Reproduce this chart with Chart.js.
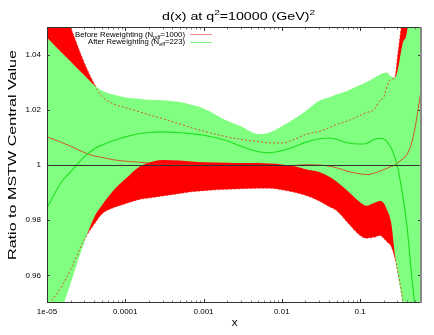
<!DOCTYPE html>
<html>
<head>
<meta charset="utf-8">
<script src="https://cdn.jsdelivr.net/npm/chart.js@4.4.1/dist/chart.umd.min.js"></script>
<style>
  html, body { margin: 0; padding: 0; background: #ffffff; }
  #wrap { width: 434px; height: 335px; }
</style>
</head>
<body>
<div id="wrap"><canvas id="c" width="434" height="335"></canvas></div>
<script>
// ---------------- data ----------------
const xValues = [1e-5, 1.5e-5, 2e-5, 3e-5, 4e-5, 5e-5, 7e-5, 1e-4, 1.5e-4, 2e-4, 3e-4, 5e-4, 7e-4,
  1e-3, 2e-3, 3e-3, 5e-3, 7e-3, 1e-2, 1.5e-2, 2e-2, 3e-2, 4e-2, 5e-2, 7e-2,
  0.1, 0.12, 0.15, 0.18, 0.2, 0.22, 0.25, 0.28, 0.3, 0.35, 0.4, 0.45, 0.5, 0.55, 0.6];

const redUpper = [1.072, 1.060, 1.050, 1.037, 1.0295, 1.025, 1.0222, 1.0208, 1.0193, 1.0182, 1.0168, 1.0148, 1.0135,
  1.0123, 1.0102, 1.0093, 1.0085, 1.008, 1.008, 1.0095, 1.011, 1.0122, 1.0135, 1.0147, 1.016,
  1.018, 1.019, 1.020, 1.0235, 1.0245, 1.0285, 1.031, 1.032, 1.039, 1.055, 1.075, 1.095, 1.115, 1.135, 1.155];

const redLower = [0.9485, 0.9555, 0.962, 0.973, 0.9785, 0.9822, 0.9845, 0.986, 0.9875, 0.988, 0.9888, 0.9897, 0.9903,
  0.9907, 0.9912, 0.9914, 0.9916, 0.9916, 0.991, 0.990, 0.989, 0.987, 0.985, 0.9835, 0.979,
  0.9745, 0.9735, 0.9738, 0.9745, 0.9735, 0.9722, 0.9705, 0.966, 0.962, 0.951, 0.935, 0.92, 0.90, 0.88, 0.86];

const redCentral = [1.0102, 1.0083, 1.0068, 1.0045, 1.0033, 1.0028, 1.0019, 1.0014, 1.0010, 1.0007, 1.0004, 1.0002, 1.0001,
  1.0000, 0.9998, 0.9997, 0.9996, 0.9996, 0.9997, 0.9999, 1.0001, 1.0000, 0.9996, 0.9990, 0.9977,
  0.9968, 0.9965, 0.9970, 0.9978, 0.9983, 0.9988, 0.9995, 1.0000, 1.0008, 1.0022, 1.004, 1.0075, 1.013, 1.020, 1.027];

const greenUpper = [1.0462, 1.041, 1.0375, 1.0325, 1.029, 1.027, 1.0255, 1.0245, 1.024, 1.0236, 1.0235, 1.0228, 1.0218,
  1.0205, 1.016, 1.014, 1.0112, 1.0118, 1.014, 1.017, 1.0195, 1.0233, 1.0245, 1.0255, 1.027,
  1.029, 1.030, 1.0315, 1.0328, 1.0333, 1.0335, 1.032, 1.0318, 1.034, 1.044, 1.049, 1.07, 1.09, 1.11, 1.13];

const greenLower = [0.928, 0.9465, 0.957, 0.972, 0.981, 0.9853, 0.9907, 0.9949, 0.9993, 1.0008, 1.0018, 1.0016, 1.0013,
  1.001, 1.0008, 1.0007, 1.0007, 1.0005, 1.0002, 0.9995, 0.9985, 0.9975, 0.9958, 0.994, 0.9905,
  0.9865, 0.9852, 0.9862, 0.987, 0.9862, 0.9838, 0.979, 0.967, 0.961, 0.949, 0.93, 0.91, 0.89, 0.87, 0.85];

const greenCentral = [0.9845, 0.9935, 0.9975, 1.003, 1.0058, 1.0072, 1.0088, 1.0102, 1.0113, 1.0118, 1.012, 1.0117, 1.0113,
  1.0108, 1.0088, 1.0068, 1.0048, 1.0044, 1.0052, 1.0068, 1.0082, 1.0095, 1.0098, 1.0093, 1.008,
  1.0076, 1.0078, 1.0092, 1.0097, 1.0094, 1.0085, 1.0062, 1.0025, 0.9995, 0.989, 0.977, 0.9615, 0.949, 0.937, 0.925];

const xTickValues = [1e-5, 1e-4, 1e-3, 1e-2, 0.1];
const xTickLabels = ['1e-05', '0.0001', '0.001', '0.01', '0.1'];
const yTickValues = [0.96, 0.98, 1, 1.02, 1.04];
const yTickLabels = ['0.96', '0.98', '1', '1.02', '1.04'];
const referenceValue = 1;

const titleParts = [{t: 'd(x) at q'}, {t: '2', sup: true}, {t: '=10000 (GeV)'}, {t: '2', sup: true}];
const xTitle = 'x';
const yTitle = 'Ratio to MSTW Central Value';
const legendBefore = [{t: 'Before Reweighting (N'}, {t: 'pdf', sub: true}, {t: '=1000)'}];
const legendAfter = [{t: 'After Reweighting (N'}, {t: 'eff', sub: true}, {t: '=223)'}];

// ---------------- helpers ----------------
const X_MIN = 1e-5, X_MAX = 0.6;
const FONT = '"Liberation Sans", Arial, Helvetica, sans-serif';
const pts = arr => xValues.map((x, i) => ({x: x, y: arr[i]}));

const allXTicks = [];
for (let k = -5; k <= -1; k++) {
  for (let m = 1; m <= 9; m++) {
    const v = m * Math.pow(10, k);
    if (v <= X_MAX * 1.0001) allXTicks.push(+v.toPrecision(6));
  }
}
function xLabelFor(v) {
  const i = xTickValues.findIndex(t => Math.abs(Math.log10(t) - Math.log10(v)) < 1e-6);
  return i >= 0 ? xTickLabels[i] : '';
}
function yLabelFor(v) {
  const i = yTickValues.findIndex(t => Math.abs(t - v) < 1e-9);
  return i >= 0 ? yTickLabels[i] : '';
}

function partFont(p, size) {
  const s = (p.sup || p.sub) ? size * 0.7 : size;
  return s.toFixed(2) + 'px ' + FONT;
}
function richWidth(ctx, parts, size) {
  let w = 0;
  for (const p of parts) { ctx.font = partFont(p, size); w += ctx.measureText(p.t).width; }
  return w;
}
function drawRich(ctx, parts, size, x, y) {
  let cx = x;
  for (const p of parts) {
    ctx.font = partFont(p, size);
    const dy = p.sup ? -size * 0.42 : (p.sub ? size * 0.28 : 0);
    ctx.fillText(p.t, cx, y + dy);
    cx += ctx.measureText(p.t).width;
  }
}
function drawFitted(ctx, parts, size, ax, baseline, targetW, align, rotate) {
  const w = richWidth(ctx, parts, size);
  const sx = targetW ? targetW / w : 1;
  ctx.save();
  ctx.translate(ax, baseline);
  if (rotate) ctx.rotate(-Math.PI / 2);
  ctx.scale(sx, 1);
  ctx.textAlign = 'left';
  ctx.textBaseline = 'alphabetic';
  ctx.fillStyle = '#000';
  const left = align === 'center' ? -w / 2 : (align === 'right' ? -w : 0);
  drawRich(ctx, parts, size, left, 0);
  ctx.restore();
}

const decorPlugin = {
  id: 'decor',
  afterDatasetsDraw(chart) {
    const {ctx, chartArea: a, scales} = chart;
    const xs = scales.x, ys = scales.y;
    ctx.save();
    // reference line
    const yr = Math.round(ys.getPixelForValue(referenceValue)) + 0.5;
    ctx.strokeStyle = '#333';
    ctx.lineWidth = 1;
    ctx.beginPath(); ctx.moveTo(a.left, yr); ctx.lineTo(a.right, yr); ctx.stroke();
    // x ticks (inward, bottom and top)
    for (const t of xs.ticks) {
      const px = Math.round(xs.getPixelForValue(t.value)) + 0.5;
      const major = xLabelFor(t.value) !== '';
      const len = major ? 4 : 2.5;
      ctx.strokeStyle = major ? '#333' : '#777';
      ctx.beginPath();
      ctx.moveTo(px, a.bottom); ctx.lineTo(px, a.bottom - len);
      ctx.moveTo(px, a.top); ctx.lineTo(px, a.top + len);
      ctx.stroke();
    }
    // y ticks (inward, left and right)
    ctx.strokeStyle = '#444';
    for (const v of yTickValues) {
      const py = Math.round(ys.getPixelForValue(v)) + 0.5;
      ctx.beginPath();
      ctx.moveTo(a.left, py); ctx.lineTo(a.left + 3, py);
      ctx.moveTo(a.right, py); ctx.lineTo(a.right - 3, py);
      ctx.stroke();
    }
    // frame
    ctx.strokeStyle = '#333';
    ctx.lineWidth = 1;
    ctx.beginPath();
    ctx.moveTo(a.left + 0.5, a.top + 0.5); ctx.lineTo(a.right, a.top + 0.5);
    ctx.moveTo(a.left + 0.5, a.top); ctx.lineTo(a.left + 0.5, a.bottom);
    ctx.moveTo(a.left, a.bottom - 0.5); ctx.lineTo(a.right, a.bottom - 0.5);
    ctx.stroke();
    ctx.strokeStyle = '#8a8a8a';
    ctx.lineWidth = 2;
    ctx.beginPath();
    ctx.moveTo(a.right, a.top); ctx.lineTo(a.right, a.bottom);
    ctx.stroke();
    ctx.restore();
  },
  afterDraw(chart) {
    const ctx = chart.ctx;
    // title
    drawFitted(ctx, titleParts, 11.5, 238.5, 19.5, 153, 'center');
    // axis titles
    drawFitted(ctx, [{t: xTitle}], 11.5, 234.5, 326, null, 'center');
    drawFitted(ctx, [{t: yTitle}], 11, 16, 155, 210, 'center', true);
    // legend
    drawFitted(ctx, legendBefore, 8, 185, 36.5, 110, 'right');
    drawFitted(ctx, legendAfter, 8, 185, 44, 97, 'right');
    ctx.save();
    ctx.lineWidth = 1;
    ctx.strokeStyle = 'rgba(255,40,40,0.55)';
    ctx.beginPath(); ctx.moveTo(190, 34.5); ctx.lineTo(212, 34.5); ctx.stroke();
    ctx.strokeStyle = 'rgba(40,230,40,0.6)';
    ctx.beginPath(); ctx.moveTo(190, 42.5); ctx.lineTo(212, 42.5); ctx.stroke();
    ctx.restore();
  }
};

const common = {pointRadius: 0, pointHoverRadius: 0, cubicInterpolationMode: 'monotone', clip: 0};
const lineRed = 'rgba(235,30,20,0.75)';

new Chart(document.getElementById('c'), {
  type: 'line',
  data: {
    datasets: [
      Object.assign({label: 'redLowerEdge', data: pts(redLower), borderWidth: 0, borderColor: 'rgba(0,0,0,0)', fill: false, order: 10}, common),
      Object.assign({label: 'Before Reweighting band', data: pts(redUpper), borderWidth: 0, borderColor: 'rgba(0,0,0,0)', backgroundColor: '#ff0000', fill: 0, order: 9}, common),
      Object.assign({label: 'greenLowerEdge', data: pts(greenLower), borderWidth: 0, borderColor: 'rgba(0,0,0,0)', fill: false, order: 8}, common),
      Object.assign({label: 'After Reweighting band', data: pts(greenUpper), borderWidth: 0, borderColor: 'rgba(0,0,0,0)', backgroundColor: '#80ff80', fill: 2, order: 7}, common),
      Object.assign({label: 'Before upper', data: pts(redUpper), borderWidth: 1, borderColor: lineRed, borderDash: [2, 2], fill: false, order: 4}, common),
      Object.assign({label: 'Before lower', data: pts(redLower), borderWidth: 1, borderColor: lineRed, borderDash: [2, 2], fill: false, order: 4}, common),
      Object.assign({label: 'Before Reweighting', data: pts(redCentral), borderWidth: 1, borderColor: lineRed, fill: false, order: 3}, common),
      Object.assign({label: 'After Reweighting', data: pts(greenCentral), borderWidth: 1.1, borderColor: 'rgba(20,220,20,0.9)', fill: false, order: 2}, common)
    ]
  },
  options: {
    responsive: false,
    animation: false,
    devicePixelRatio: 1,
    events: [],
    layout: {padding: {left: 0, right: 13, top: 27, bottom: 0}},
    plugins: {legend: {display: false}, title: {display: false}, tooltip: {enabled: false}},
    scales: {
      x: {
        type: 'logarithmic',
        min: X_MIN,
        max: X_MAX,
        grid: {display: false, drawTicks: false},
        border: {display: false},
        afterBuildTicks: s => { s.ticks = allXTicks.map(v => ({value: v})); },
        afterFit: s => { s.height = 32; },
        ticks: {
          autoSkip: false, maxRotation: 0, minRotation: 0, padding: 4,
          color: '#000', font: {family: FONT, size: 8},
          callback: v => xLabelFor(v)
        }
      },
      y: {
        type: 'linear',
        min: 0.95,
        max: 1.05,
        grid: {display: false, drawTicks: false},
        border: {display: false},
        afterBuildTicks: s => { s.ticks = yTickValues.map(v => ({value: v})); },
        afterFit: s => { s.width = 47; },
        ticks: {
          padding: 6, color: '#000', font: {family: FONT, size: 8},
          callback: v => yLabelFor(v)
        }
      }
    }
  },
  plugins: [decorPlugin]
});
</script>
</body>
</html>
